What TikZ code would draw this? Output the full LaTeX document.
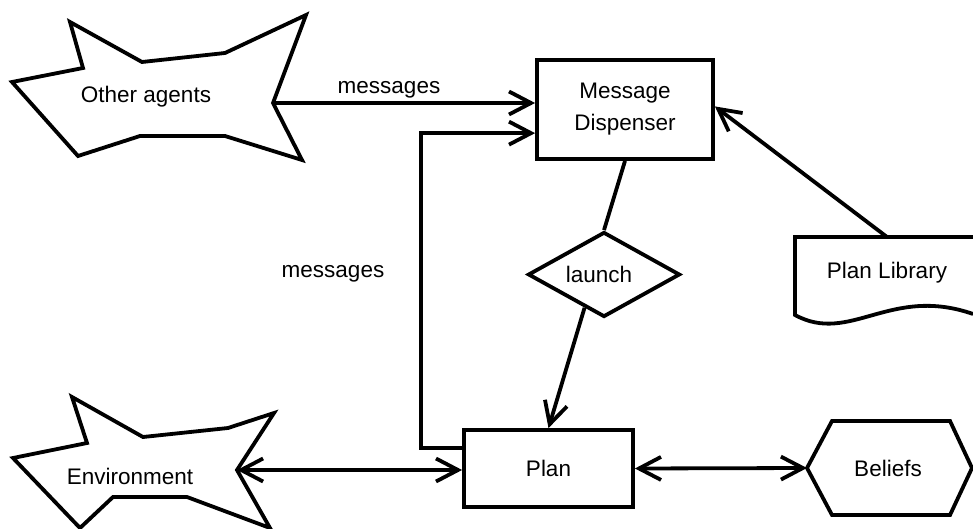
\documentclass[tikz,border=0pt]{standalone}
\usepackage{fontspec}
\setmainfont{Liberation Sans}
\usetikzlibrary{arrows.meta,calc,shapes.geometric}
\newcommand{\lab}{\fontsize{22.5}{32}\selectfont}
\tikzset{
  thick line/.style={line width=3.8pt, line join=miter},
  tipbarb/.tip={Straight Barb[length=22pt,width=23pt]},
  arr/.style={thick line, -tipbarb},
  darr/.style={thick line, tipbarb-tipbarb},
  box/.style={draw, thick line, rectangle, inner sep=0pt},
  lbl/.style={inner sep=0pt, font=\lab, align=center}
}
\begin{document}
\begin{tikzpicture}[x=1pt, y=-1pt]
\useasboundingbox (0,0) rectangle (973,529);

% star-shaped boundary around "Other agents"
\draw[thick line] (70,22) -- (142,62) -- (225,53) -- (306,15) -- (273,103)
  -- (302,160) -- (225,136) -- (140,136) -- (78,156) -- (12,82) -- (83,68) -- cycle;
\node[lbl] (oa) at (146,97) {Other agents};
\coordinate (oaport) at (273,103);

% star-shaped boundary around "Environment"
\draw[thick line] (72,397) -- (143,437) -- (228,428) -- (274,413) -- (237,470)
  -- (270,528) -- (187,497) -- (113,497) -- (80,528) -- (13,458) -- (87,443) -- cycle;
\node[lbl] (env) at (130,476) {Environment};
\coordinate (envport) at (237,470);

% boxes
\node[box, minimum width=176pt, minimum height=99pt, lbl, draw] (md) at (625,109.5) {Message\\Dispenser};
\node[box, minimum width=169pt, minimum height=77pt, lbl, draw] (plan) at (548.5,468.5) {Plan};

% decision diamond
\node[draw, thick line, diamond, aspect=1.79, minimum width=152pt, minimum height=85pt,
      inner sep=0pt, font=\lab] (launch) at (604,274.5) {\hspace*{-10pt}launch};

% document shape "Plan Library"
\draw[thick line] (973,237) -- (795,237) -- (795,315)
  .. controls (850,345) and (890,285) .. (973,314);
\node[lbl] (lib) at (887,273) {Plan Library};
\coordinate (libport) at (887,237);

% hexagon "Beliefs"
\draw[thick line] (807,468) -- (832,421) -- (950,421) -- (972,468) -- (950,515) -- (832,515) -- cycle;
\node[lbl] (bel) at (888,468) {Beliefs};
\coordinate (belport) at (807,468);

% connection points on the boxes
\coordinate (mdin1) at ($(md.north west)!0.43!(md.south west)$);
\coordinate (mdin2) at ($(md.north west)!0.73!(md.south west)$);
\coordinate (mdinr) at ($(md.north east)!0.47!(md.south east)$);
\coordinate (planout) at ($(plan.north west)!0.25!(plan.south west)$);
\coordinate (launchout) at ($(launch.west)!0.75!(launch.south)$);

% connectors
\draw[arr] (oaport) -- (oaport -| md.west);
\node[lbl] (msg1) at (389,90) {messages};
\draw[arr] (planout) -- ++(-41,0) |- (mdin2);
\node[lbl] (msg2) at (333,274) {messages};
\draw[arr] (libport) -- (mdinr);
\draw[thick line] (md.south) -- (launch.north);
\draw[arr] (launchout) -- (plan.north);
\draw[darr] (envport) -- (envport -| plan.west);
\draw[darr] (plan.east) -- (belport);
\end{tikzpicture}
\end{document}
